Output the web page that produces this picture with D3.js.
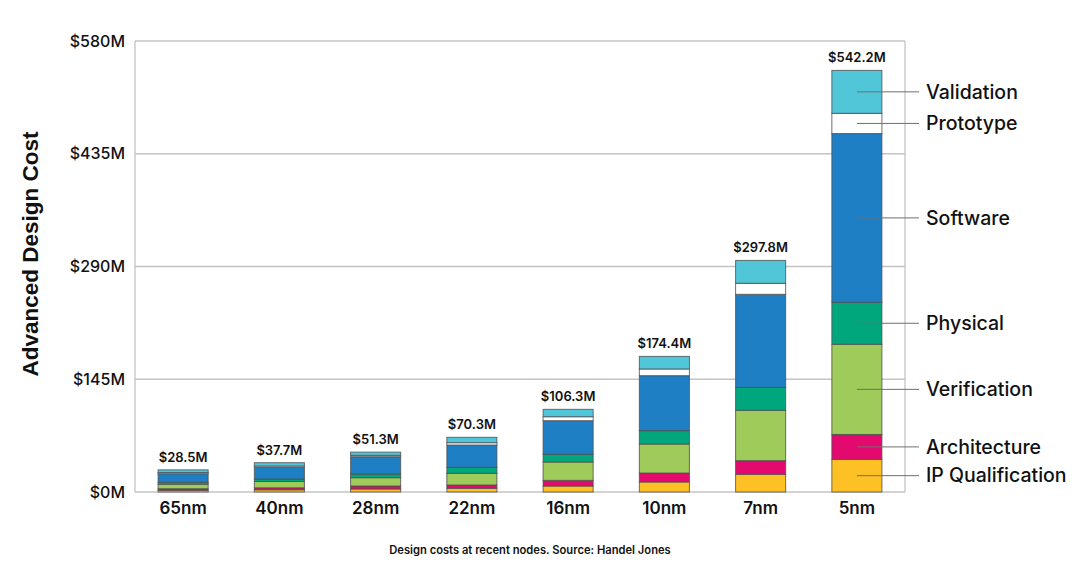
<!DOCTYPE html>
<html>
<head>
<meta charset="utf-8">
<script src="https://cdn.jsdelivr.net/npm/d3@7"></script>
<style>
    body { margin: 0; background: #fff; }
    svg { display: block; }
</style>
</head>
<body>
<div id="design-cost"></div>
<script>
const nodes = ["65nm", "40nm", "28nm", "22nm", "16nm", "10nm", "7nm", "5nm"]
const totals = [28.5, 37.7, 51.3, 70.3, 106.3, 174.4, 297.8, 542.2]
const stages = ["IP Qualification", "Architecture", "Verification", "Physical", "Software", "Prototype", "Validation"]
const yTicks = [0, 145, 290, 435, 580]

// $M per node, bottom to top of each bar
const ipQualification = [2.2, 2.9, 3.9, 4.8, 7.7, 12.9, 22.8, 42.0]
const architecture = [2.0, 2.5, 3.8, 4.2, 7.3, 11.5, 17.5, 32.0]
const verification = [5.8, 8.1, 10.7, 15.0, 23.6, 37.3, 64.8, 116.0]
const physical = [2.5, 3.2, 4.7, 7.8, 9.9, 17.2, 29.5, 54.0]
const software = [11.0, 15.0, 22.3, 28.6, 43.2, 70.7, 119.6, 217.0]
const prototype = [1.5, 1.7, 1.8, 3.0, 5.1, 8.6, 14.2, 26.0]
const validation = [3.5, 4.3, 4.1, 6.9, 9.5, 16.2, 29.4, 55.2]

const stageColors = ["#fdc126", "#e4096e", "#9ecb5a", "#00a77d", "#1e7fc4", "#ffffff", "#51c6d8"]

const series = [ipQualification, architecture, verification, physical, software, prototype, validation]

const table = nodes.map((n, i) => {
    const row = { node: n }
    stages.forEach((s, j) => row[s] = series[j][i])
    return row
})

const width = 1080
const height = 579
const fontMain = "Inter, 'Noto Sans', sans-serif"

const svg = d3.select("#design-cost").append("svg")
    .attr("width", width)
    .attr("height", height)

const x = d3.scaleBand()
    .domain(nodes)
    .range([135, 905])
    .paddingInner(0.48)
    .paddingOuter(0.24)

const y = d3.scaleLinear()
    .domain([0, 580])
    .range([492, 41])

// grid
svg.append("g")
    .selectAll("line")
    .data(yTicks)
    .join("line")
    .attr("x1", 135)
    .attr("x2", 905)
    .attr("y1", d => y(d))
    .attr("y2", d => y(d))
    .attr("stroke", "#c4c4c4")
    .attr("stroke-width", 1.3)

svg.append("line")
    .attr("x1", 135).attr("x2", 135)
    .attr("y1", y(580)).attr("y2", y(0))
    .attr("stroke", "#c4c4c4")
    .attr("stroke-width", 1.3)

svg.append("line")
    .attr("x1", 905).attr("x2", 905)
    .attr("y1", y(580)).attr("y2", y(0))
    .attr("stroke", "#c4c4c4")
    .attr("stroke-width", 1.3)

const yAxis = svg.append("g")
    .attr("transform", "translate(135,0)")
    .call(d3.axisLeft(y).tickValues(yTicks).tickSize(0).tickPadding(10).tickFormat(d => `$${d}M`))

yAxis.select(".domain").remove()
yAxis.selectAll("text")
    .style("font-family", fontMain)
    .style("font-size", "16px")
    .style("font-weight", 500)
    .attr("fill", "#111")

const xAxis = svg.append("g")
    .attr("transform", `translate(0,${y(0)})`)
    .call(d3.axisBottom(x).tickSize(0).tickPadding(10))

xAxis.select(".domain").remove()
xAxis.selectAll("text")
    .style("font-family", fontMain)
    .style("font-size", "17px")
    .style("font-weight", 600)
    .attr("fill", "#111")

const stacked = d3.stack().keys(stages)(table)

svg.append("g")
    .selectAll("g")
    .data(stacked)
    .join("g")
    .attr("fill", (d, i) => stageColors[i])
    .selectAll("rect")
    .data(d => d)
    .join("rect")
    .attr("x", d => x(d.data.node))
    .attr("width", x.bandwidth())
    .attr("y", d => y(d[1]))
    .attr("height", d => y(d[0]) - y(d[1]))
    .attr("stroke", "#4d4d4d")
    .attr("stroke-opacity", 0.8)
    .attr("stroke-width", 1)

svg.append("g")
    .selectAll("text")
    .data(nodes)
    .join("text")
    .attr("x", d => x(d) + x.bandwidth() / 2)
    .attr("y", (d, i) => y(totals[i]) - 8)
    .attr("text-anchor", "middle")
    .style("font-family", fontMain)
    .style("font-size", "13px")
    .style("font-weight", 600)
    .attr("fill", "#111")
    .text((d, i) => `$${totals[i]}M`)

// callouts on the 5nm bar
const last = nodes.length - 1
const cx = x(nodes[last]) + x.bandwidth() / 2

const callouts = svg.append("g")
    .selectAll("g")
    .data(stacked)
    .join("g")
    .attr("transform", d => `translate(0,${y((d[last][0] + d[last][1]) / 2)})`)

callouts.append("line")
    .attr("x1", cx)
    .attr("x2", 919)
    .attr("stroke", "#6e6e6e")
    .attr("stroke-width", 1)

callouts.append("text")
    .attr("x", 926)
    .attr("dy", "0.35em")
    .style("font-family", fontMain)
    .style("font-size", "19.5px")
    .style("font-weight", 500)
    .attr("fill", "#111")
    .text(d => d.key)

svg.append("text")
    .attr("transform", "translate(38,254) rotate(-90)")
    .attr("text-anchor", "middle")
    .style("font-family", "'Liberation Sans', Arial, sans-serif")
    .style("font-size", "22.5px")
    .style("font-weight", 700)
    .attr("fill", "#111")
    .text("Advanced Design Cost")

svg.append("text")
    .attr("x", 530)
    .attr("y", 554)
    .attr("text-anchor", "middle")
    .style("font-family", fontMain)
    .style("font-size", "11.2px")
    .style("font-weight", 600)
    .attr("fill", "#111")
    .text("Design costs at recent nodes. Source: Handel Jones")
</script>
</body>
</html>
